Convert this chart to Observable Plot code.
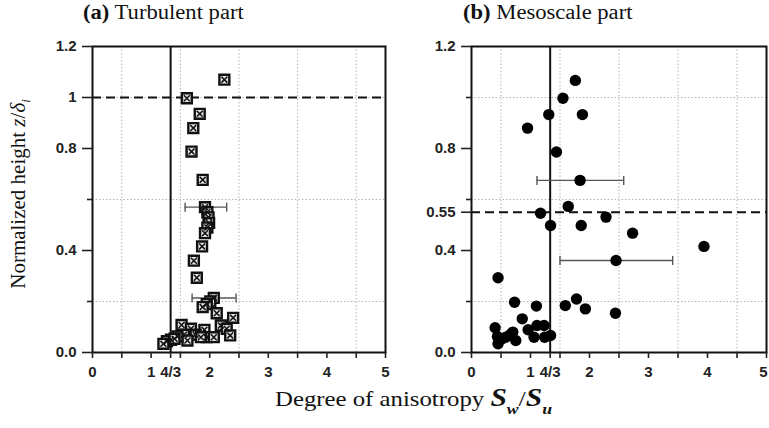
<!DOCTYPE html>
<html>
<head>
<meta charset="utf-8">
<script src="https://cdn.jsdelivr.net/npm/d3@7"></script>
<script src="https://cdn.jsdelivr.net/npm/@observablehq/plot@0.6"></script>
<style>
  html, body { margin: 0; padding: 0; background: #fff; }
  #wrap { position: relative; width: 769px; height: 428px; overflow: hidden; background: #fff; }
  .ptitle { position: absolute; top: 1px; font-family: "Liberation Serif", "Times New Roman", serif; font-size: 20px; color: #111; transform: scaleX(1.13); transform-origin: left top; white-space: nowrap; }
  .xtitle { position: absolute; left: 275px; top: 384px; font-family: "Liberation Serif", "Times New Roman", serif; font-size: 21px; color: #111; transform: scaleX(1.18); transform-origin: left top; white-space: nowrap; }
  .ytitle { position: absolute; left: 20px; top: 194px; font-family: "Liberation Serif", "Times New Roman", serif; font-size: 21px; color: #111; transform: translate(-50%, -50%) rotate(-90deg); white-space: nowrap; }
  .bi { font-weight: bold; font-style: italic; }
  .plotbox { position: absolute; top: 0; }
  .plotbox svg text { font-family: "Liberation Sans", Arial, sans-serif; font-size: 15px; font-weight: bold; fill: #222; }
</style>
</head>
<body>
<div id="wrap">
  <div class="ptitle" style="left:83px"><b>(a)</b> Turbulent part</div>
  <div class="ptitle" style="left:463px"><b>(b)</b> Mesoscale part</div>
  <div class="ytitle">Normalized height <i>z</i>/<i>δ</i><sub style="font-size:13px"><i>i</i></sub></div>
  <div class="xtitle">Degree of anisotropy <span class="bi" style="font-size:25px">S</span><sub class="bi" style="font-size:15px;position:relative;top:3px">w</sub><span style="font-size:22px">/</span><span class="bi" style="font-size:25px">S</span><sub class="bi" style="font-size:15px;position:relative;top:3px">u</sub></div>
  <div id="left" class="plotbox" style="left:0px"></div>
  <div id="right" class="plotbox" style="left:380px"></div>
</div>
<script>
// ---------- data ----------
const leftX = [2.25,1.61,1.83,1.72,1.69,1.88,
  1.92,1.96,1.98,1.99,1.96,1.92,1.87,1.73,1.78,
  2.07,2.01,1.95,1.88,2.12,2.40,2.19,2.29,2.35,
  1.52,1.68,1.91,1.76,1.56,1.62,1.95,2.07,1.85,1.45,1.34,1.27,1.21,1.40];
const leftY = [1.07,0.997,0.936,0.88,0.788,0.677,
  0.57,0.55,0.53,0.508,0.49,0.468,0.416,0.36,0.293,
  0.214,0.20,0.19,0.178,0.154,0.136,0.106,0.093,0.067,
  0.108,0.093,0.089,0.07,0.07,0.047,0.06,0.06,0.06,0.063,0.05,0.044,0.034,0.054];

const rightX = [1.76,1.55,1.31,1.88,0.95,1.44,1.84,
  1.64,1.17,2.28,1.34,1.86,2.73,2.45,3.94,
  0.45,0.73,1.10,1.59,1.78,1.93,2.44,0.86,
  0.40,0.96,1.11,1.23,1.34,1.24,1.06,0.66,0.75,0.58,0.45,0.44,0.70,0.52];
const rightY = [1.067,0.997,0.933,0.933,0.88,0.786,0.675,
  0.573,0.546,0.531,0.498,0.498,0.468,0.361,0.416,
  0.293,0.197,0.182,0.184,0.21,0.171,0.154,0.132,
  0.097,0.089,0.106,0.106,0.067,0.06,0.06,0.07,0.047,0.06,0.034,0.063,0.08,0.054];

// error bars: centre height, left end, right end
const leftErrY = [0.57, 0.214];
const leftErrX1 = [1.58, 1.70];
const leftErrX2 = [2.29, 2.45];
const rightErrY = [0.675, 0.361];
const rightErrX1 = [1.11, 1.50];
const rightErrX2 = [2.58, 3.41];

// reference lines
const isoLine = 4/3;
const leftDashY = 1.0;
const rightDashY = 0.55;

// ticks
const xTickVals = [0, 1, 4/3, 2, 3, 4, 5];
const xTickLabels = ["0", "1", "4/3", "2", "3", "4", "5"];
const xTickMarks = [0, 0.5, 1, 4/3, 1.5, 2, 2.5, 3, 3.5, 4, 4.5, 5];
const xGrid = [0.5, 1.5, 2.5, 3.5, 4.5];
const yGrid = [0.2, 0.6, 1.0];
const leftYTickVals = [0, 0.4, 0.8, 1, 1.2];
const leftYTickLabels = ["0.0", "0.4", "0.8", "1", "1.2"];
const leftYMinor = [0.2, 0.6];
const rightYTickVals = [0, 0.4, 0.55, 0.8, 1.2];
const rightYTickLabels = ["0.0", "0.4", "0.55", "0.8", "1.2"];
const rightYMinor = [0.2, 0.6, 1.0];

// ---------- build ----------
const capSymbol = {
  draw(ctx) { ctx.moveTo(0, -4.5); ctx.lineTo(0, 4.5); }
};

function panel({xs, ys, errY, errX1, errX2, dashY, yTicks, yLabels, yMinor, squares, width, marginLeft, marginRight, edgeShift}) {
  const pts = xs.map((x, i) => ({x, y: ys[i]}));
  const errs = errY.map((y, i) => ({y, x1: errX1[i], x2: errX2[i]}));
  const caps = errs.flatMap(e => [{x: e.x1, y: e.y}, {x: e.x2, y: e.y}]);
  const marks = [
    Plot.ruleX(xGrid, {stroke: "#b5b5b5", strokeDasharray: "1.5,2", strokeWidth: 1}),
    Plot.ruleY(yGrid, {stroke: "#b5b5b5", strokeDasharray: "1.5,2", strokeWidth: 1}),
    Plot.ruleX([isoLine], {stroke: "#111", strokeWidth: 2}),
    Plot.ruleY([dashY], {stroke: "#111", strokeWidth: 2, strokeDasharray: "9,5"}),
    Plot.ruleY(errs, {y: "y", x1: "x1", x2: "x2", stroke: "#555", strokeWidth: 1.4}),
    Plot.dot(caps, {x: "x", y: "y", symbol: capSymbol, stroke: "#555", strokeWidth: 1.4, r: 4})
  ];
  if (squares) {
    marks.push(Plot.dot(pts, {x: "x", y: "y", symbol: "square", r: 5.6, fill: "#e0e0e0", stroke: "#111", strokeWidth: 2.4}));
    marks.push(Plot.dot(pts, {x: "x", y: "y", symbol: "times", r: 2.8, stroke: "#111", strokeWidth: 1.5}));
  } else {
    marks.push(Plot.dot(pts, {x: "x", y: "y", r: 5.7, fill: "#000", stroke: "none"}));
  }
  const txt = {fontSize: 15, fontWeight: "bold"};
  const lastX = xTickVals[xTickVals.length - 1];
  const innerX = xTickVals.slice(0, -1);
  const fmtX = d => xTickLabels[xTickVals.indexOf(d)];
  marks.push(
    Plot.frame({stroke: "#111", strokeWidth: 2}),
    Plot.axisX(xTickMarks, {tickSize: 6, tickFormat: () => "", label: null, strokeWidth: 1.6}),
    Plot.axisX(innerX, {...txt, tickSize: 0, tickPadding: 14, label: null, tickFormat: fmtX}),
    Plot.axisX([lastX], {...txt, tickSize: 0, tickPadding: 14, label: null, tickFormat: fmtX, dx: edgeShift}),
    Plot.axisY(yTicks, {...txt, tickSize: 10, tickPadding: 6, label: null, strokeWidth: 1.6,
      tickFormat: d => yLabels[yTicks.indexOf(d)]}),
    Plot.axisY(yMinor, {tickSize: 5, tickFormat: () => "", label: null, strokeWidth: 1.6})
  );
  return Plot.plot({
    width, height: 390,
    marginLeft, marginRight, marginTop: 46, marginBottom: 38,
    x: {domain: [0, 5]},
    y: {domain: [0, 1.2]},
    style: {fontFamily: "'Liberation Sans', Arial, sans-serif", fontSize: "15px", color: "#222", background: "transparent", overflow: "visible"},
    marks
  });
}

document.getElementById("left").appendChild(panel({
  xs: leftX, ys: leftY, errY: leftErrY, errX1: leftErrX1, errX2: leftErrX2,
  dashY: leftDashY, yTicks: leftYTickVals, yLabels: leftYTickLabels, yMinor: leftYMinor,
  squares: true, width: 395, marginLeft: 92, marginRight: 10, edgeShift: 0
}));
document.getElementById("right").appendChild(panel({
  xs: rightX, ys: rightY, errY: rightErrY, errX1: rightErrX1, errX2: rightErrX2,
  dashY: rightDashY, yTicks: rightYTickVals, yLabels: rightYTickLabels, yMinor: rightYMinor,
  squares: false, width: 389, marginLeft: 91, marginRight: 3, edgeShift: -3
}));
</script>
</body>
</html>
